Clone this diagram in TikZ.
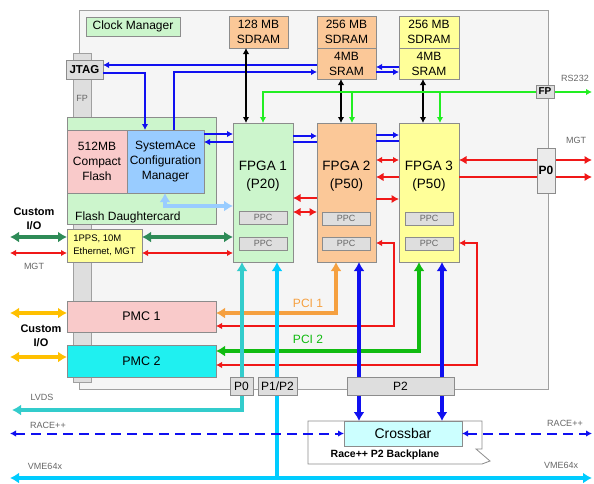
\documentclass[tikz,border=0pt]{standalone}
\usepackage{fontspec}
\setmainfont{Liberation Sans}
\usetikzlibrary{arrows.meta,calc}
\definecolor{bordergray}{HTML}{A0A0A0}
\definecolor{boardfill}{HTML}{F5F5F5}
\definecolor{boxgray}{HTML}{8C8C8C}
\definecolor{portfill}{HTML}{DEDEDE}
\definecolor{lgreen}{HTML}{CCF5CC}
\definecolor{lorange}{HTML}{FBC898}
\definecolor{lyellow}{HTML}{FFFF99}
\definecolor{lpink}{HTML}{F9CACA}
\definecolor{lblue}{HTML}{99CCFF}
\definecolor{pmccyan}{HTML}{1FF0F0}
\definecolor{xbarcyan}{HTML}{CCFFFF}
\definecolor{cblue}{HTML}{1010F0}
\definecolor{cgreen}{HTML}{22EE22}
\definecolor{cpci}{HTML}{10BB10}
\definecolor{cred}{HTML}{F01818}
\definecolor{cdgreen}{HTML}{2E8B57}
\definecolor{corange}{HTML}{F5A040}
\definecolor{cgold}{HTML}{FFC000}
\definecolor{cteal}{HTML}{33CCCC}
\definecolor{csky}{HTML}{00CCFF}
\definecolor{clblue}{HTML}{99CCFF}
\definecolor{labgray}{HTML}{666666}
\tikzset{
  blk/.style={draw=boxgray, line width=0.8pt, inner sep=0pt, outer sep=0pt, anchor=north west, align=center, font=\fontsize{12}{15}\selectfont},
  portbox/.style={blk, fill=portfill},
  ppcbox/.style={blk, fill=portfill, minimum width=48pt, minimum height=13pt, font=\fontsize{9}{9}\selectfont, text=labgray},
  lab/.style={font=\fontsize{9}{10}\selectfont, text=labgray, inner sep=0pt},
  fpgalab/.style={font=\fontsize{13.5}{18}\selectfont, align=center, inner sep=0pt},
  thinw/.style={line width=2pt},
  medw/.style={line width=2.8pt},
  thickw/.style={line width=4.2pt},
  aS/.style={-{Latex[length=6pt,width=6.5pt]}},
  aSS/.style={{Latex[length=6pt,width=6.5pt]}-{Latex[length=6pt,width=6.5pt]}},
  aM/.style={-{Latex[length=7.5pt,width=8.5pt]}},
  aMM/.style={{Latex[length=7.5pt,width=8.5pt]}-{Latex[length=7.5pt,width=8.5pt]}},
  aL/.style={-{Latex[length=9pt,width=11pt]}},
  aLL/.style={{Latex[length=9pt,width=11pt]}-{Latex[length=9pt,width=11pt]}},
}
\begin{document}
\begin{tikzpicture}[x=1pt,y=-1pt]
\useasboundingbox (0,0) rectangle (594,483);
% board
\node[draw=bordergray, fill=boardfill, line width=0.8pt, minimum width=469pt, minimum height=379pt, anchor=north west, inner sep=0pt] (board) at (79,10) {};
\node[blk, draw=bordergray, fill=portfill, minimum width=18pt, minimum height=329pt] (strip) at (73,53) {};
\node[lab] (fplab) at (82,98) {FP};
\node[blk, fill=lgreen, minimum width=94pt, minimum height=19pt] (clock) at (86,17) {Clock Manager};
\node[blk, fill=lorange, minimum width=59pt, minimum height=32pt] (sdram1) at (229,16) {128 MB\\SDRAM};
\node[blk, fill=lorange, minimum width=59pt, minimum height=32pt] (sdram2) at (317,16) {256 MB\\SDRAM};
\node[blk, fill=lorange, minimum width=59pt, minimum height=31pt] (sram2) at (317,48) {4MB\\SRAM};
\node[blk, fill=lyellow, minimum width=60pt, minimum height=32pt] (sdram3) at (399,16) {256 MB\\SDRAM};
\node[blk, fill=lyellow, minimum width=60pt, minimum height=31pt] (sram3) at (399,48) {4MB\\SRAM};
\node[portbox, minimum width=37pt, minimum height=19pt, font=\bfseries\fontsize{11.5}{14}\selectfont] (jtag) at (66,60) {JTAG};
% flash daughtercard
\node[blk, fill=lgreen, minimum width=149pt, minimum height=107pt] (flashdc) at (67,117) {};
\node[anchor=west, inner sep=0pt, font=\fontsize{12}{14}\selectfont] (flashlab) at (75,217) {Flash Daughtercard};
\node[blk, fill=lpink, minimum width=60pt, minimum height=63pt] (cflash) at (67,130) {512MB\\Compact\\Flash};
\node[blk, fill=lblue, minimum width=77pt, minimum height=63pt] (sysace) at (127,130) {SystemAce\\Configuration\\Manager};
\node[blk, fill=lyellow, minimum width=75pt, minimum height=33pt, align=left, font=\fontsize{9.5}{13}\selectfont] (pps) at (67,229) {1PPS, 10M\\Ethernet, MGT};
% FPGAs
\node[blk, fill=lgreen, minimum width=60pt, minimum height=139pt] (fpga1) at (233,123) {};
\node[blk, fill=lorange, minimum width=59pt, minimum height=139pt] (fpga2) at (317,123) {};
\node[blk, fill=lyellow, minimum width=60pt, minimum height=139pt] (fpga3) at (399,123) {};
\node[fpgalab] (f1lab) at (263,176) {FPGA 1\\(P20)};
\node[fpgalab] (f2lab) at (346.5,176) {FPGA 2\\(P50)};
\node[fpgalab] (f3lab) at (429,176) {FPGA 3\\(P50)};
\node[ppcbox] (ppc1a) at (239,211) {PPC};
\node[ppcbox] (ppc1b) at (239,237) {PPC};
\node[ppcbox] (ppc2a) at (322,212) {PPC};
\node[ppcbox] (ppc2b) at (322,237) {PPC};
\node[ppcbox] (ppc3a) at (405,212) {PPC};
\node[ppcbox] (ppc3b) at (405,237) {PPC};
% PMC
\node[blk, fill=lpink, minimum width=149pt, minimum height=31pt, font=\fontsize{12.5}{14}\selectfont] (pmc1) at (67,301) {PMC 1};
\node[blk, fill=pmccyan, minimum width=149pt, minimum height=32pt, font=\fontsize{12.5}{14}\selectfont] (pmc2) at (67,345) {PMC 2};
% backplane
\draw[draw=boxgray, fill=white, line width=0.8pt] (308,421) -- (482,421) -- (482,449) -- (476,449) -- (490,461) -- (482,464) -- (308,464) -- cycle;
\node[blk, fill=xbarcyan, minimum width=118pt, minimum height=25pt, font=\fontsize{14}{16}\selectfont] (xbar) at (344,421) {Crossbar};
\node[inner sep=0pt, font=\bfseries\fontsize{10.5}{12}\selectfont] (bplab) at (385,455) {Race++ P2 Backplane};
% free ends
\coordinate (rsR) at (592,92);
\coordinate (mgtR1) at (592,160);
\coordinate (mgtR2) at (592,177);
\coordinate (cioA) at (10,237);
\coordinate (mgtL) at (10,253);
\coordinate (pmcioA) at (10,313);
\coordinate (pmcioB) at (10,357);
\coordinate (lvdsL) at (12,410);
\coordinate (raceL) at (10,433.5);
\coordinate (raceR) at (592,433.5);
\coordinate (vmeL) at (10,478);
\coordinate (vmeR) at (592,478);
\coordinate (r1) at (394,243);
\coordinate (r2) at (477,243);
% blue thin
\draw[cblue, thinw, aS] ([yshift=-1.5pt]sram2.west) -- ([yshift=4.5pt]jtag.east);
\draw[cblue, thinw, aS] ([yshift=-3.5pt]jtag.east) -| ([xshift=18pt]sysace.north west);
\draw[cblue, thinw, aS] ([xshift=47pt]sysace.north west) |- ([yshift=-8.5pt]sram2.west);
\draw[cblue, thinw, aS] ([yshift=-3.5pt]sram3.west) -- ([yshift=-3.5pt]sram2.east);
\draw[cblue, thinw, aS] ([yshift=-8.5pt]sram2.east) -- ([yshift=-8.5pt]sram3.west);
\draw[cblue, thinw, aS] ([yshift=-4pt]sysace.north east) -- ([yshift=-11pt]fpga1.north west);
\draw[cblue, thinw, aS] ([yshift=-19pt]fpga1.north west) -- ([yshift=-12pt]sysace.north east);
\draw[cblue, thinw, aS] ([yshift=-13pt]fpga1.north east) -- ([yshift=-13pt]fpga2.north west);
\draw[cblue, thinw] ([yshift=-19pt]fpga1.north east) -- ([yshift=-19pt]fpga2.north west);
\draw[cblue, thinw, aS] ([yshift=-12pt]fpga2.north east) -- ([yshift=-12pt]fpga3.north west);
\draw[cblue, thinw] ([yshift=-18pt]fpga2.north east) -- ([yshift=-18pt]fpga3.north west);
% black memory buses
\coordinate (k1) at ([xshift=-12.5pt]sdram1.south);
\coordinate (k2) at ([xshift=-5.5pt]sram2.south);
\coordinate (k3) at ([xshift=-6pt]sram3.south);
\draw[black, line width=2.2pt, aSS] (k1) -- (k1 |- fpga1.north);
\draw[black, line width=2.2pt, aSS] (k2) -- (k2 |- fpga2.north);
\draw[black, line width=2.2pt, aSS] (k3) -- (k3 |- fpga3.north);
% green RS232
\coordinate (g1) at ([xshift=30pt]fpga1.north west);
\coordinate (g2) at ([xshift=35pt]fpga2.north west);
\coordinate (g3) at ([xshift=41pt]fpga3.north west);
\draw[cgreen, line width=2.2pt, aSS] (g1) |- (rsR);
\draw[cgreen, line width=2.2pt, aS] (g2 |- rsR) -- (g2);
\draw[cgreen, line width=2.2pt, aS] (g3 |- rsR) -- (g3);
% red FPGA links
\draw[cred, medw, aM] ([yshift=-75pt]fpga2.north west) -- ([yshift=-75pt]fpga1.north east);
\draw[cred, medw, aMM] ([yshift=-89pt]fpga1.north east) -- ([yshift=-89pt]fpga2.north west);
\draw[cred, thinw, aSS] ([yshift=-37pt]fpga2.north east) -- ([yshift=-37pt]fpga3.north west);
\draw[cred, medw, aM] ([yshift=-54pt]fpga3.north west) -- ([yshift=-54pt]fpga2.north east);
\draw[cred, medw, aM] ([yshift=-76pt]fpga2.north east) -- ([yshift=-76pt]fpga3.north west);
\draw[cred, medw, aMM] ([yshift=-37pt]fpga3.north east) -- (mgtR1);
\draw[cred, medw, aM] ([yshift=-54pt]fpga3.north east) -- (mgtR2);
% 1PPS
\coordinate (pp1) at ([yshift=-8pt]pps.north east);
\coordinate (pp2) at ([yshift=-24pt]pps.north east);
\draw[cdgreen, thickw, aLL] (cioA) -- ([yshift=-8pt]pps.north west);
\draw[cdgreen, thickw, aLL] (pp1) -- (pp1 -| fpga1.west);
\draw[cred, thinw, aSS] (mgtL) -- ([yshift=-24pt]pps.north west);
\draw[cred, thinw, aSS] (pp2) -- (pp2 -| fpga1.west);
% SystemAce to FPGA1
\draw[clblue, thickw, aLL] ([xshift=38pt]sysace.south west) |- ([yshift=-83pt]fpga1.north west);
% PCI
\draw[corange, thickw, aLL] ([yshift=-12pt]pmc1.north east) -| ([xshift=19pt]fpga2.south west);
\draw[cred, thinw, aSS] ([yshift=-25pt]pmc1.north east) -| (r1) -- (r1 -| fpga2.east);
\draw[cpci, thickw, aLL] ([yshift=-6pt]pmc2.north east) -| ([xshift=20pt]fpga3.south west);
\draw[cred, thinw, aSS] ([yshift=-20pt]pmc2.north east) -| (r2) -- (r2 -| fpga3.east);
% crossbar links
\coordinate (b2) at ([xshift=42pt]fpga2.south west);
\coordinate (b3) at ([xshift=43pt]fpga3.south west);
\draw[cblue, thickw, aLL] (b2) -- (b2 |- xbar.north);
\draw[cblue, thickw, aLL] (b3) -- (b3 |- xbar.north);
% LVDS, VME
\draw[cteal, thickw, aLL] ([xshift=9pt]fpga1.south west) |- (lvdsL);
\draw[csky, thickw, aLL] (vmeL) -- (vmeR);
\coordinate (v1) at ([xshift=44pt]fpga1.south west);
\draw[csky, thickw, aL] (v1 |- vmeL) -- (v1);
% RACE++
\draw[cblue, line width=2pt, dash pattern=on 10pt off 6pt, aSS] (raceL) -- (xbar.west);
\draw[cblue, line width=2pt, dash pattern=on 10pt off 6pt, aSS] (xbar.east) -- (raceR);
% Custom I/O
\draw[cgold, thickw, aLL] (pmcioA) -- ([yshift=3.5pt]pmc1.west);
\draw[cgold, thickw, aLL] (pmcioB) -- ([yshift=4pt]pmc2.west);
% ports
\node[portbox, minimum width=23pt, minimum height=18pt] (p0b) at (230,377) {P0};
\node[portbox, minimum width=39pt, minimum height=18pt] (p1p2) at (258,377) {P1/P2};
\node[portbox, minimum width=107pt, minimum height=18pt] (p2) at (347,377) {P2};
\node[portbox, minimum width=18pt, minimum height=13pt, font=\bfseries\fontsize{10}{11}\selectfont] (fpR) at (536,85) {FP};
\node[portbox, fill=portfill!60, minimum width=18pt, minimum height=45pt, font=\bfseries\fontsize{12}{13}\selectfont] (p0R) at (537,148) {P0};
% labels
\node[lab] (rslab) at (575,78) {RS232};
\node[lab] (mgtRlab) at (576,140) {MGT};
\node[lab] (mgtLlab) at (34,266) {MGT};
\node[lab] (lvdslab) at (42,397) {LVDS};
\node[lab] (raceLlab) at (48,425) {RACE++};
\node[lab] (raceRlab) at (565,423) {RACE++};
\node[lab] (vmeLlab) at (45,466) {VME64x};
\node[lab] (vmeRlab) at (561,465) {VME64x};
\node[font=\bfseries\fontsize{11}{14}\selectfont, align=center, inner sep=0pt] (cio1) at (34,219) {Custom\\I/O};
\node[font=\bfseries\fontsize{11}{14}\selectfont, align=center, inner sep=0pt] (cio2) at (41,336) {Custom\\I/O};
\node[font=\fontsize{12}{14}\selectfont, text=corange, inner sep=0pt] (pci1lab) at (308,303) {PCI 1};
\node[font=\fontsize{12}{14}\selectfont, text=cpci, inner sep=0pt] (pci2lab) at (308,339) {PCI 2};
\end{tikzpicture}
\end{document}
